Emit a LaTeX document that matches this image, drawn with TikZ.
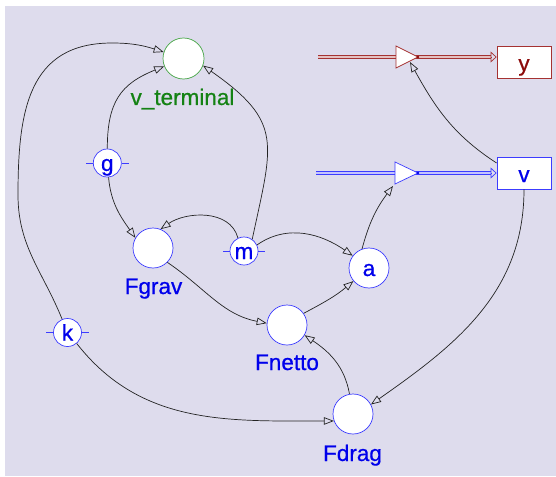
\documentclass[tikz,border=0pt]{standalone}
\usepackage{fontspec}
\setmainfont[FakeBold=0.7]{Liberation Sans}
\usetikzlibrary{arrows.meta}
\definecolor{bgc}{RGB}{222,220,237}
\definecolor{blu}{RGB}{0,0,235}
\definecolor{blub}{RGB}{60,60,255}
\definecolor{grn}{RGB}{20,130,20}
\definecolor{grnb}{RGB}{70,165,70}
\definecolor{dred}{RGB}{140,10,10}
\definecolor{dredb}{RGB}{165,50,50}
\definecolor{conn}{RGB}{35,35,35}
\begin{document}
\begin{tikzpicture}[x=1pt,y=1pt,
  font=\fontsize{22.5}{26}\selectfont,
  aux/.style={circle, draw=blub, fill=white, line width=0.7pt, minimum size=40pt, inner sep=0pt, text=blu, text height=17pt, text depth=1pt},
  cst/.style={circle, draw=blub, fill=white, line width=0.7pt, minimum size=28pt, inner sep=0pt, text=blu, text height=17pt, text depth=1pt},
  lbl/.style={anchor=base, inner sep=0pt, text=blu},
  stock/.style={rectangle, fill=white, line width=0.8pt, minimum width=54pt, minimum height=32pt, inner sep=0pt, text height=20pt, text depth=2pt},
  link/.style={draw=conn, line width=0.7pt, -{Triangle[open, length=10pt, width=7.5pt]}},
  rflow/.style={draw=dredb, line width=0.9pt, double=dredb!30!white, double distance=1.3pt},
  bflow/.style={draw=blub, line width=0.9pt, double=blub!30!white, double distance=1.3pt},
  fhead/.style={line width=0.7pt, -{Triangle[open, length=6pt, width=11pt]}},
  valve/.style={fill=white, line width=0.7pt}
]
\useasboundingbox (0,0) rectangle (556,-476);
\fill[bgc] (5,-6) rectangle (556,-476);

% nodes
\node[circle, draw=grnb, fill=white, line width=0.7pt, minimum size=41pt, inner sep=0pt] (vt) at (183.5,-58.5) {};
\node[lbl, text=grn] (vtl) at (182.5,-105) {v\_terminal};
\node[cst] (g) at (107.3,-163) {g};
\node[cst] (m) at (244,-251) {m};
\node[cst] (k) at (67.5,-332.5) {k};
\node[aux] (Fgrav) at (153,-248) {};
\node[lbl] (Fgravl) at (153.5,-294) {Fgrav};
\node[aux] (a) at (369,-268) {a};
\node[aux] (Fnetto) at (287,-325) {};
\node[lbl] (Fnettol) at (287,-370) {Fnetto};
\node[aux] (Fdrag) at (353,-414) {};
\node[lbl] (Fdragl) at (352.5,-461) {Fdrag};
\node[stock, draw=dredb, text=dred] (ybox) at (524,-62) {y};
\node[stock, draw=blub, text=blu] (vbox) at (524,-173) {v};

\foreach \n in {g,m,k}
  \draw[blub, line width=0.7pt] (\n.west) -- ++(-7,0) (\n.east) -- ++(7,0);

% flows
\coordinate (ysrc) at (318,-57);
\coordinate (yend) at (491,-57);
\coordinate (vsrc) at (316,-173);
\coordinate (vend) at (491,-173);
\draw[rflow] (ysrc) -- (yend);
\draw[fhead, dredb] (yend) -- (ybox.west |- yend);
\draw[bflow] (vsrc) -- (vend);
\draw[fhead, blub] (vend) -- (vbox.west |- vend);
\draw[valve, draw=dredb] (396,-46) -- (418,-57) -- (396,-68) -- cycle;
\fill[dred] (418,-57) circle (1.3);
\draw[valve, draw=blub] (395,-162) -- (418,-173) -- (395,-184) -- cycle;
\fill[blu] (418,-173) circle (1.3);
\coordinate (yvt) at (410,-62);
\coordinate (vvt) at (393,-186);

% connectors
\coordinate (kp1) at (18,-195);
\coordinate (kp2) at (112,-43);
\draw[link] (k.112) to[out=112,in=270] (kp1) to[out=90,in=180,looseness=1.2] (kp2) to[out=0,in=162] (vt.162);
\draw[link] (g.90) to[out=90,in=202,looseness=1.2] (vt.202);
\draw[link] (m.55) to[out=78,in=-35,looseness=1.4] (vt.-20);
\draw[link] (g.-85) to[out=-85,in=125] (Fgrav.150);
\draw[link] (m.115) to[out=105,in=35] (Fgrav.68);
\draw[link] (m.25) to[out=35,in=145] (a.143);
\draw[link] (Fgrav.-45) to[out=-34,in=169] (Fnetto.175);
\draw[link] (Fnetto.35) to[out=28,in=-140] (a.-140);
\draw[link] (Fdrag.100) to[out=100,in=-34] (Fnetto.-30);
\draw[link] (k.-50) to[out=-52,in=180] (Fdrag.200);
\draw[link] (a.110) to[out=75,in=-127] (vvt);
\draw[link] (vbox.south) to[out=-90,in=35] (Fdrag.28);
\draw[link] (vbox.160) to[out=147,in=-61] (yvt);
\end{tikzpicture}
\end{document}
